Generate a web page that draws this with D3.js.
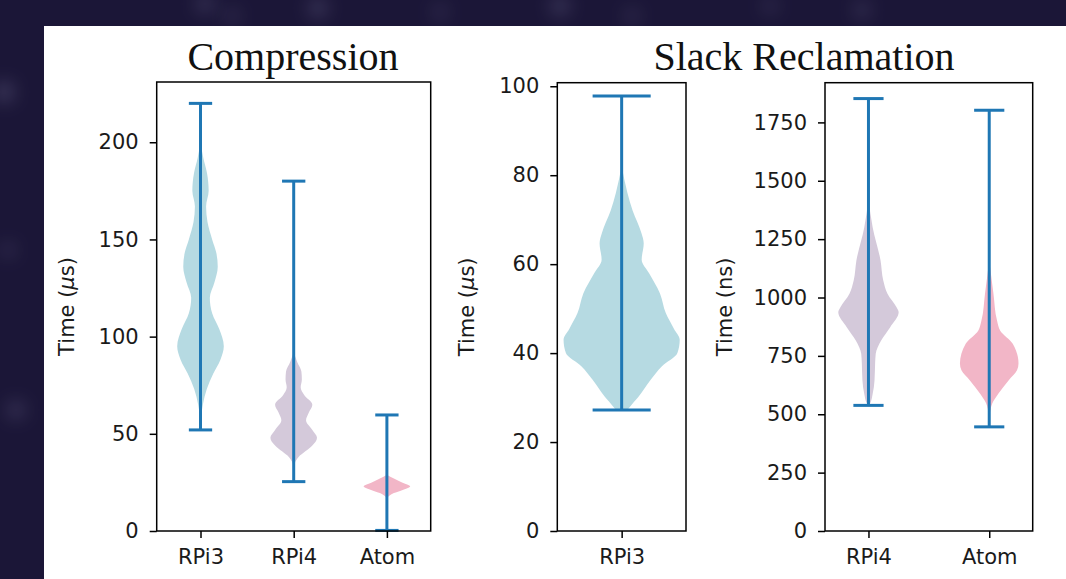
<!DOCTYPE html>
<html>
<head>
<meta charset="utf-8">
<script src="https://cdn.jsdelivr.net/npm/d3@7"></script>
<style>
  body { margin: 0; background: #1b1637; }
  svg { display: block; }
</style>
</head>
<body>
<script>
  // ---- values ----
  const compressionCats = ["RPi3", "RPi4", "Atom"];
  const compressionMins = [52, 25.4, 0.3];
  const compressionMaxs = [220, 180, 59.7];
  const compressionTicks = [0, 50, 100, 150, 200];

  // kde outlines: [time, relative half width]
  const compRPi3Kde = [[200, 0], [192, 0.12], [184, 0.28], [175, 0.35], [167, 0.24], [159, 0.3],
    [150, 0.5], [143, 0.68], [136, 0.74], [128, 0.6], [120, 0.4], [112, 0.5], [104, 0.8],
    [95, 1.0], [88, 0.85], [81, 0.55], [73, 0.27], [65, 0.1], [58, 0.02], [54, 0]];
  const compRPi4Kde = [[92, 0], [87, 0.15], [82, 0.33], [78, 0.35], [74, 0.3], [70, 0.45],
    [65, 0.8], [61, 0.65], [57, 0.53], [52, 0.8], [48, 1.0], [44, 0.8], [41, 0.5],
    [38, 0.2], [35, 0.05], [32, 0]];
  const compAtomKde = [[29, 0], [27, 0.3], [25, 0.65], [23, 1.0], [21, 0.65], [19.5, 0.3], [17, 0]];

  const slackCatsA = ["RPi3"];
  const slackMinsA = [27.2];
  const slackMaxsA = [97.8];
  const slackTicksA = [0, 20, 40, 60, 80, 100];
  const slackRPi3Kde = [[82, 0], [76, 0.1], [72, 0.19], [67, 0.34], [64.7, 0.38], [61, 0.345],
    [58, 0.47], [53.4, 0.66], [49, 0.76], [45.5, 0.9], [43, 1.0], [40, 0.96], [37, 0.69],
    [34, 0.5], [30.2, 0.29], [27.9, 0.14], [27.2, 0.1]];

  const slackCatsB = ["RPi4", "Atom"];
  const slackMinsB = [538, 446];
  const slackMaxsB = [1852, 1802];
  const slackTicksB = [0, 250, 500, 750, 1000, 1250, 1500, 1750];
  const slackRPi4Kde = [[1420, 0], [1300, 0.14], [1158, 0.4], [1073, 0.49], [1016, 0.63],
    [958, 0.93], [937, 1.0], [873, 0.72], [816, 0.42], [759, 0.24], [717, 0.22],
    [645, 0.2], [588, 0.14], [545, 0.05], [538, 0]];
  const slackAtomKde = [[1160, 0], [1016, 0.14], [900, 0.26], [859, 0.36], [802, 0.78],
    [717, 0.97], [688, 0.92], [645, 0.64], [588, 0.3], [546, 0.1], [500, 0.02], [470, 0]];

  const violinColors = ["#b6dae2", "#d4c9da", "#f2b6c7"];
  const lineColor = "#1f77b4";

  const width = 1066, height = 579;

  const svg = d3.select("body").append("svg")
    .attr("width", width)
    .attr("height", height);

  // dark starry backdrop
  const defs = svg.append("defs");
  defs.append("filter").attr("id", "glow")
    .attr("x", "-200%").attr("y", "-200%")
    .attr("width", "500%").attr("height", "500%")
    .append("feGaussianBlur").attr("stdDeviation", 9);

  svg.append("rect")
    .attr("width", width)
    .attr("height", height)
    .attr("fill", "#1b1637");

  const stars = [[4, 92, 10], [205, 4, 8], [232, 16, 6], [318, 8, 9], [440, 12, 6],
    [560, 6, 9], [632, 16, 6], [770, 6, 6], [862, 10, 7], [16, 410, 8], [8, 250, 6]];
  svg.selectAll(".star")
    .data(stars)
    .enter()
    .append("circle")
      .attr("cx", d => d[0])
      .attr("cy", d => d[1])
      .attr("r", d => d[2])
      .attr("fill", "rgba(200,195,240,0.22)")
      .attr("filter", "url(#glow)");

  // white figure panel
  svg.append("rect")
    .attr("x", 44)
    .attr("y", 26)
    .attr("width", width - 44)
    .attr("height", height - 26)
    .attr("fill", "white");

  // titles
  svg.append("text")
    .attr("x", 293)
    .attr("y", 70)
    .attr("text-anchor", "middle")
    .style("font-family", "'Liberation Serif', 'Times New Roman', serif")
    .style("font-size", "40px")
    .style("fill", "#111")
    .text("Compression");

  svg.append("text")
    .attr("x", 804)
    .attr("y", 70)
    .attr("text-anchor", "middle")
    .style("font-family", "'Liberation Serif', 'Times New Roman', serif")
    .style("font-size", "40px")
    .style("fill", "#111")
    .text("Slack Reclamation");

  drawPanel({
    left: 156.7, right: 430.7, top: 82, bottom: 531,
    xlim: [0.53, 3.47], ylim: [0, 231],
    cats: compressionCats, mins: compressionMins, maxs: compressionMaxs,
    kdes: [compRPi3Kde, compRPi4Kde, compAtomKde],
    colors: violinColors, ticks: compressionTicks,
    labelX: 74, unit: "\u03bc"
  });

  drawPanel({
    left: 557.3, right: 686, top: 82.7, bottom: 531,
    xlim: [0.723, 1.277], ylim: [0, 100.8],
    cats: slackCatsA, mins: slackMinsA, maxs: slackMaxsA,
    kdes: [slackRPi3Kde],
    colors: [violinColors[0]], ticks: slackTicksA,
    labelX: 474, unit: "\u03bc"
  });

  drawPanel({
    left: 825, right: 1032.7, top: 82.7, bottom: 531,
    xlim: [0.64, 2.36], ylim: [0, 1920],
    cats: slackCatsB, mins: slackMinsB, maxs: slackMaxsB,
    kdes: [slackRPi4Kde, slackAtomKde],
    colors: [violinColors[1], violinColors[2]], ticks: slackTicksB,
    labelX: 732, unit: "n"
  });

  // one axes box with its violins
  function drawPanel(p) {
    let xScale = d3.scaleLinear().domain(p.xlim).range([p.left, p.right]);
    let yScale = d3.scaleLinear().domain(p.ylim).range([p.bottom, p.top]);
    let positions = p.cats.map((c, i) => i + 1);
    let unitPx = xScale(1) - xScale(0);

    let g = svg.append("g");

    p.kdes.forEach(function(kde, i) {
      let cx = xScale(positions[i]);
      let area = d3.area()
        .curve(d3.curveMonotoneY)
        .y(d => yScale(d[0]))
        .x0(d => cx - d[1] * 0.25 * unitPx)
        .x1(d => cx + d[1] * 0.25 * unitPx);

      g.append("path")
        .datum(kde)
        .attr("d", area)
        .attr("fill", p.colors[i]);
    });

    // whiskers: bar + min/max caps
    positions.forEach(function(pos, i) {
      let cx = xScale(pos);
      let half = 0.125 * unitPx;
      g.append("line")
        .attr("x1", cx).attr("x2", cx)
        .attr("y1", yScale(p.mins[i])).attr("y2", yScale(p.maxs[i]))
        .attr("stroke", lineColor).attr("stroke-width", 3);
      [p.mins[i], p.maxs[i]].forEach(function(v) {
        g.append("line")
          .attr("x1", cx - half).attr("x2", cx + half)
          .attr("y1", yScale(v)).attr("y2", yScale(v))
          .attr("stroke", lineColor).attr("stroke-width", 3);
      });
    });

    // axes
    let yAxis = d3.axisLeft(yScale)
      .tickValues(p.ticks)
      .tickSize(7)
      .tickSizeOuter(0)
      .tickPadding(11)
      .tickFormat(d3.format("d"));
    let yG = g.append("g")
      .attr("transform", "translate(" + p.left + ",0)")
      .call(yAxis);

    let xAxis = d3.axisBottom(xScale)
      .tickValues(positions)
      .tickSize(7)
      .tickSizeOuter(0)
      .tickPadding(11)
      .tickFormat(d => p.cats[d - 1]);
    let xG = g.append("g")
      .attr("transform", "translate(0," + p.bottom + ")")
      .call(xAxis);

    [yG, xG].forEach(function(a) {
      a.select(".domain").remove();
      a.selectAll(".tick line").attr("stroke", "#000").attr("stroke-width", 1.5);
      a.selectAll(".tick text")
        .style("font-family", "'DejaVu Sans', sans-serif")
        .style("font-size", "21px")
        .style("fill", "#1a1a1a");
    });

    // frame
    g.append("rect")
      .attr("x", p.left)
      .attr("y", p.top)
      .attr("width", p.right - p.left)
      .attr("height", p.bottom - p.top)
      .attr("fill", "none")
      .attr("stroke", "#000")
      .attr("stroke-width", 1.5);

    // y label
    let label = g.append("text")
      .attr("transform", "translate(" + p.labelX + "," + ((p.top + p.bottom) / 2) + ")rotate(-90)")
      .attr("text-anchor", "middle")
      .style("font-family", "'DejaVu Sans', sans-serif")
      .style("font-size", "21px")
      .style("fill", "#1a1a1a");
    label.append("tspan").text("Time (");
    label.append("tspan")
      .style("font-style", p.unit === "n" ? "normal" : "italic")
      .text(p.unit);
    label.append("tspan").text("s)");
  }
</script>
</body>
</html>
